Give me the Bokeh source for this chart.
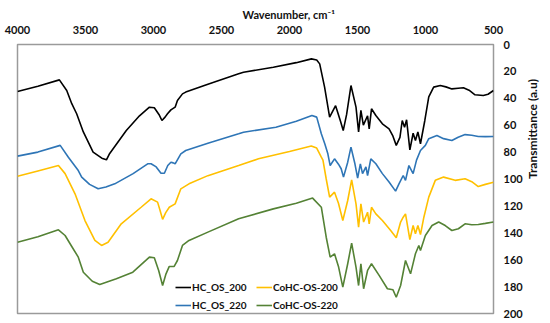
import math
from bokeh.plotting import figure
from bokeh.models import Range1d, FixedTicker, Legend, LegendItem, Title
from bokeh.embed import file_html
from bokeh.resources import INLINE

# ---- data ----
x_ticks = [4000, 3500, 3000, 2500, 2000, 1500, 1000, 500]
y_ticks = [0, 20, 40, 60, 80, 100, 120, 140, 160, 180, 200]

hc200_w = [4000, 3850, 3692, 3638, 3601, 3565, 3516, 3444, 3380, 3346, 3322, 3200, 3103, 3030, 2994,
           2960, 2938, 2915, 2897, 2872, 2841, 2824, 2787, 2763, 2600, 2374, 2338, 2119, 1950, 1839,
           1800, 1778, 1742, 1705, 1661, 1625, 1605, 1580, 1548, 1511, 1492, 1475, 1457, 1426, 1414,
           1397, 1365, 1317, 1268, 1240, 1215, 1188, 1171, 1154, 1139, 1115, 1091, 1074, 1056, 1037,
           1005, 976, 940, 891, 850, 806, 760, 721, 680, 636, 575, 540, 500]
hc200_v = [35, 31, 26.3, 34.2, 44, 51.5, 65, 80, 84.5, 85.7, 81, 64, 53, 46.6, 47,
           52, 56.5, 54, 51.5, 48.6, 46.6, 41.6, 36.7, 35.4, 29.5, 21.8, 20.6, 16.9, 13.5, 10.7,
           11.5, 14.4, 31.7, 54, 45.5, 57, 64, 52, 30.5, 46.6, 65, 49, 60, 53, 62.7,
           47.8, 52.8, 59, 62.7, 68, 75, 69, 56.5, 61.5, 56, 78.3, 66, 71.4, 65, 73.8,
           56.5, 39, 31.7, 30.5, 31.5, 33, 32.5, 32.2, 34, 37.4, 37.9, 37, 34.2]

hc220_w = [4000, 3850, 3686, 3626, 3553, 3528, 3470, 3407, 3350, 3285, 3150, 3043, 3018, 2980, 2945,
           2920, 2895, 2872, 2855, 2841, 2820, 2799, 2763, 2600, 2374, 2338, 2100, 1950, 1835, 1800,
           1766, 1740, 1718, 1701, 1669, 1640, 1620, 1603, 1572, 1548, 1519, 1499, 1479, 1463, 1438,
           1426, 1402, 1365, 1317, 1268, 1220, 1195, 1164, 1147, 1122, 1091, 1066, 1037, 1001, 976,
           916, 867, 806, 760, 709, 660, 612, 560, 500]
hc220_v = [83, 80, 75, 83.8, 93.7, 98.6, 104, 107.3, 106, 103.6, 96, 88.7, 88.7, 91, 95.7,
           95.7, 90, 87.5, 88, 88.7, 85, 81.3, 78.8, 73.5, 66.4, 65.2, 61.5, 57, 52.8, 54,
           66.4, 74, 81.3, 90, 85, 89, 92.4, 98.6, 87.5, 76.3, 88.7, 99.4, 88.7, 96, 91,
           97.4, 85, 88.7, 96, 102.3, 109, 103.6, 97.4, 101, 90, 96, 86, 78.8, 75, 70,
           67.7, 70, 71.4, 69, 67, 67.5, 68.4, 68.5, 68.4]

co200_w = [4000, 3850, 3699, 3650, 3577, 3504, 3431, 3382, 3334, 3237, 3091, 3018, 2970, 2950, 2933,
           2910, 2884, 2841, 2799, 2739, 2600, 2374, 2228, 2000, 1840, 1800, 1766, 1754, 1730, 1705,
           1669, 1640, 1608, 1572, 1543, 1511, 1492, 1475, 1455, 1426, 1414, 1397, 1365, 1317, 1256,
           1215, 1183, 1164, 1147, 1115, 1091, 1074, 1056, 1037, 1012, 976, 928, 867, 782, 709,
           660, 612, 560, 500]
co200_v = [98, 94, 90, 96, 111, 130.9, 145.7, 149.4, 147, 133.3, 121, 114.7, 117.2, 124, 130,
           125, 121, 118.5, 107.3, 103.6, 97.5, 90, 85, 79.5, 75.5, 77, 83.8, 86, 100, 113.5,
           109.8, 118, 130.9, 116, 100.6, 118.5, 135.8, 118.5, 132, 124.7, 133.3, 121, 125.9, 130.9, 138.3,
           143.7, 132, 128.4, 125.9, 145, 134.6, 140.7, 134.6, 141.3, 128.4, 113.5, 101, 98.6, 101, 99.8,
           102, 105.6, 104, 102.4]

co220_w = [4000, 3850, 3699, 3650, 3601, 3553, 3516, 3450, 3395, 3273, 3152, 3030, 2994, 2962, 2933,
           2908, 2884, 2848, 2824, 2787, 2739, 2600, 2374, 2119, 1950, 1830, 1766, 1730, 1701, 1669,
           1640, 1608, 1572, 1543, 1511, 1492, 1475, 1455, 1426, 1397, 1341, 1280, 1239, 1215, 1183,
           1147, 1110, 1074, 1049, 1037, 1001, 952, 903, 855, 806, 758, 709, 660, 612, 560, 500]
co220_v = [147, 143, 137.8, 142, 150.2, 158.1, 169.3, 176, 178.4, 174.2, 169.3, 158.1, 158.6, 168, 179.2,
           170.5, 165, 165, 160.6, 149.4, 145.7, 139.5, 129.6, 122.2, 118, 114.2, 121, 143.3, 158.1, 155.6,
           165, 180.4, 163, 147.7, 165.6, 179.2, 163, 181.6, 168, 163, 171.7, 181.6, 182.4, 187.9, 179.2,
           160.6, 170.5, 155.6, 149.4, 153.2, 142, 134.6, 132, 134.6, 138.3, 137, 133.3, 134, 133.8, 133, 132]

series_names = ["HC_OS_200", "HC_OS_220", "CoHC-OS-200", "CoHC-OS-220"]
series_colors = ["#000000", "#2E75B6", "#FFC000", "#548235"]
series_data = [(hc200_w, hc200_v), (hc220_w, hc220_v), (co200_w, co200_v), (co220_w, co220_v)]

FONT = "Lato"

p = figure(width=550, height=323, x_range=Range1d(4000, 500), y_range=Range1d(200, 0),
           output_backend="svg", toolbar_location=None,
           x_axis_location="above", y_axis_location="right",
           min_border_left=17, min_border_right=53, min_border_top=44, min_border_bottom=10)

p.xgrid.visible = False
p.ygrid.visible = False
p.outline_line_color = "#9a9a9a"
p.outline_line_width = 1.5

for ax, ticks in ((p.xaxis[0], x_ticks), (p.yaxis[0], y_ticks)):
    ax.ticker = FixedTicker(ticks=ticks)
    ax.axis_line_color = None
    ax.major_tick_line_color = None
    ax.minor_tick_line_color = None
    ax.major_tick_out = 0
    ax.major_tick_in = 0
    ax.major_label_text_font = FONT
    ax.major_label_text_font_style = "bold"
    ax.major_label_text_font_size = "11px"
    ax.major_label_text_color = "#111111"
p.xaxis[0].major_label_standoff = 11
p.yaxis[0].major_label_standoff = 10

yax = p.yaxis[0]
yax.axis_label = "Transmittance (a.u)"
yax.axis_label_standoff = 7
yax.axis_label_text_font = FONT
yax.axis_label_text_font_style = "bold"
yax.axis_label_text_font_size = "12px"
yax.axis_label_text_color = "#111111"
try:
    yax.axis_label_orientation = math.pi / 2
except Exception:
    pass

items = []
for name, color, (w, v) in zip(series_names, series_colors, series_data):
    r = p.line(w, v, line_color=color, line_width=1.6)
    items.append(LegendItem(label=name, renderers=[r]))

legend = Legend(items=items, ncols=2, location=(158, -1),
                glyph_width=16, glyph_height=18, label_height=18, label_width=64,
                label_standoff=1, spacing=0, padding=0, margin=0,
                border_line_color=None, background_fill_alpha=0,
                label_text_font=FONT, label_text_font_style="bold",
                label_text_font_size="10px", label_text_color="#111111")
p.add_layout(legend, "center")

p.add_layout(Title(text="Wavenumber, cm\u207b\u00b9", align="left", offset=225, standoff=0,
                   vertical_align="top",
                   text_font=FONT, text_font_style="bold", text_font_size="11px",
                   text_color="#111111"), "above")

open("out.html", "w").write(file_html(p, INLINE))
